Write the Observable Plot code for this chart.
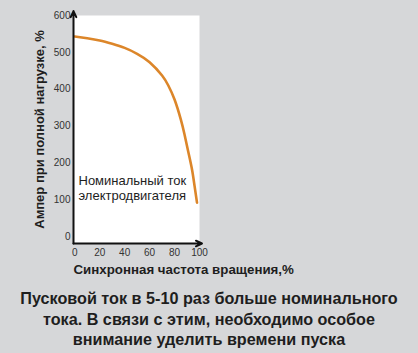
<!DOCTYPE html>
<html><head><meta charset="utf-8">
<script src="https://cdn.jsdelivr.net/npm/d3@7"></script>
<script src="https://cdn.jsdelivr.net/npm/@observablehq/plot@0.6"></script>
<style>
html,body{margin:0;padding:0;background:#d6d7d9;}
#chart{width:418px;height:353px;overflow:hidden;}
#cap{width:418px;text-align:center;font:bold 16.2px "Liberation Sans",Arial,sans-serif;line-height:20.5px;color:#1e1e1e;}
</style></head>
<body><div id="chart"></div>
<script>
const speed = [0, 10, 20, 30, 40, 50, 60, 70, 75, 80, 85, 88, 91, 94, 96, 98];
const current = [543, 538, 532, 523, 512, 496, 473, 437, 410, 372, 318, 277, 230, 182, 138, 92];
const xTicks = [0, 20, 40, 60, 80, 100];
const yTicks = [0, 100, 200, 300, 400, 500, 600];
const yLabel = "Ампер при полной нагрузке, %";
const xLabel = "Синхронная частота вращения,%";
const note = ["Номинальный ток\nэлектродвигателя"];
const noteX = [3], noteY = [132];
const captionLines = ["Пусковой ток в 5-10 раз больше номинального", "тока. В связи с этим, необходимо особое", "внимание уделить времени пуска"];

const data = speed.map((s, i) => ({s, c: current[i]}));
const xMin = -1, yMin = -19;
const axes = [
  {x1: xMin, y1: yMin, x2: 102, y2: yMin},
  {x1: xMin, y1: yMin, x2: xMin, y2: 612}
];
const ink = "#1e1e1e";
const plot = Plot.plot({
  width: 418, height: 288,
  marginLeft: 73, marginRight: 219, marginTop: 15, marginBottom: 45,
  style: {background: "transparent", fontFamily: "Liberation Sans, Arial, sans-serif", overflow: "visible"},
  x: {domain: [xMin, 100], ticks: xTicks, tickSize: 0, tickPadding: 6, label: null},
  y: {domain: [yMin, 600], ticks: yTicks, tickSize: 0, tickPadding: 3, label: null},
  marks: [
    Plot.frame({fill: "white", stroke: null}),
    Plot.axisX({ticks: xTicks, tickSize: 0, tickPadding: 5, label: null, fontSize: 10, color: "#333"}),
    Plot.axisY({ticks: yTicks, tickSize: 0, tickPadding: 3, label: null, fontSize: 10, color: "#333"}),
    Plot.line(data, {x: "s", y: "c", stroke: "#dc862a", strokeWidth: 2.6, curve: "natural"}),
    Plot.arrow(axes, {x1: "x1", y1: "y1", x2: "x2", y2: "y2", stroke: "#111", strokeWidth: 2, headLength: 5, headAngle: 50}),
    Plot.text(note, {x: noteX, y: noteY, text: d => d, textAnchor: "start", lineAnchor: "middle", lineHeight: 1.15, fontSize: 13, fill: ink}),
    Plot.text([yLabel], {frameAnchor: "left", textAnchor: "middle", rotate: -90, dx: -34, text: d => d, fontSize: 13, fontWeight: "bold", fill: ink}),
    Plot.text([xLabel], {frameAnchor: "bottom-left", textAnchor: "start", dy: 30, text: d => d, fontSize: 13.3, fontWeight: "bold", fill: ink})
  ]
});
const root = document.getElementById("chart");
root.appendChild(plot);
const cap = document.createElement("div");
cap.id = "cap";
cap.innerHTML = captionLines.join("<br>");
root.appendChild(cap);
</script></body></html>
